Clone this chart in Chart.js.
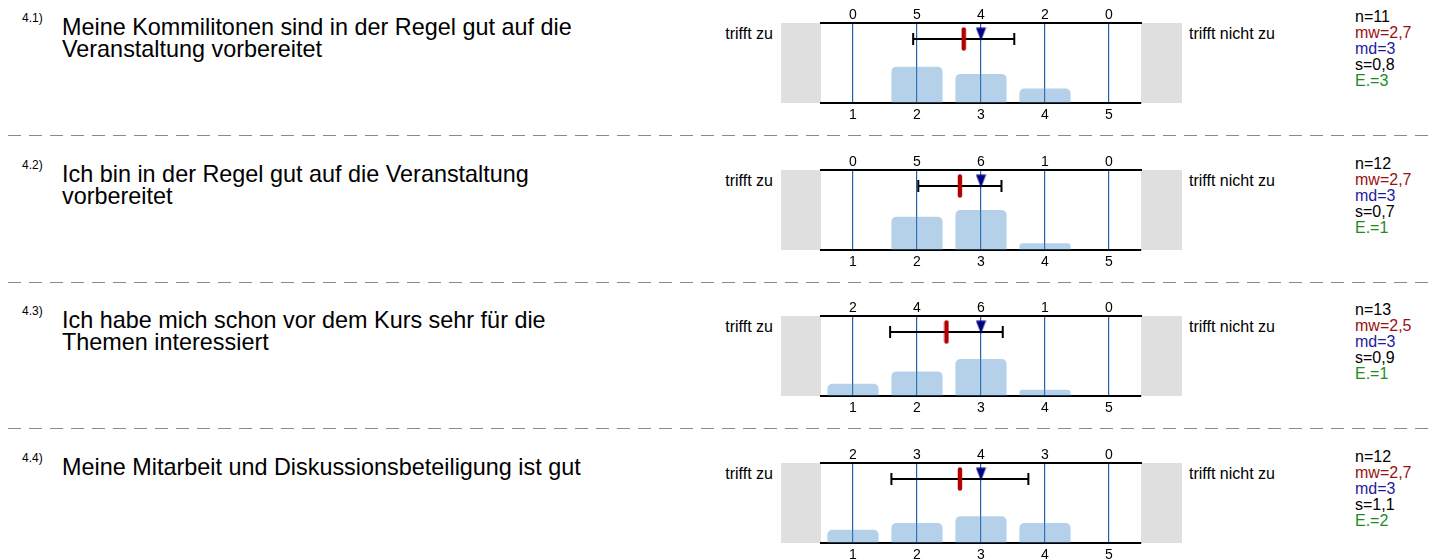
<!DOCTYPE html>
<html>
<head>
<meta charset="utf-8">
<script src="https://cdn.jsdelivr.net/npm/chart.js@4"></script>
<style>
  html, body { margin: 0; padding: 0; background: #fff; }
  body { width: 1431px; height: 559px; overflow: hidden; position: relative; font-family: "Liberation Sans", Arial, sans-serif; }
  .abs { position: absolute; white-space: nowrap; }
  .nr { font-size: 12px; color: #000; }
  .q { font-size: 23.4px; line-height: 22px; color: #000; }
  .lbl { font-size: 16px; line-height: 18px; color: #000; }
  .stats { font-size: 16px; line-height: 16px; }
  .mw { color: #9b1010; }
  .md { color: #1c1c9c; }
  .en { color: #1e8c1e; }
  canvas { position: absolute; }
</style>
</head>
<body>
<svg id="seps" class="abs" style="left:0;top:0" width="1431" height="559"></svg>
<script>
// question labels
const numbers = ["4.1)", "4.2)", "4.3)", "4.4)"];
const questions = [
  ["Meine Kommilitonen sind in der Regel gut auf die", "Veranstaltung vorbereitet"],
  ["Ich bin in der Regel gut auf die Veranstaltung", "vorbereitet"],
  ["Ich habe mich schon vor dem Kurs sehr für die", "Themen interessiert"],
  ["Meine Mitarbeit und Diskussionsbeteiligung ist gut"]
];
const scaleValues = [1, 2, 3, 4, 5];
// answer counts for 1..5
const counts = [
  [0, 5, 4, 2, 0],
  [0, 5, 6, 1, 0],
  [2, 4, 6, 1, 0],
  [2, 3, 4, 3, 0]
];
const nValues = [11, 12, 13, 12];
const means = [2.73, 2.67, 2.46, 2.67];
const medians = [3, 3, 3, 3];
const sds = [0.79, 0.65, 0.88, 1.07];
const abstentions = [3, 1, 1, 2];

const rowTops = [0, 147, 293, 440];

function fmt(v) { return v.toFixed(1).replace(".", ","); }

function addDiv(cls, left, top, html) {
  const d = document.createElement("div");
  d.className = "abs " + cls;
  d.style.left = left + "px";
  d.style.top = top + "px";
  d.innerHTML = html;
  document.body.appendChild(d);
  return d;
}

// marker images
const meanImg = document.createElement("canvas");
meanImg.width = 6; meanImg.height = 24;
(function () {
  const c = meanImg.getContext("2d");
  c.strokeStyle = "#b00000";
  c.lineWidth = 4.4;
  c.lineCap = "round";
  c.beginPath();
  c.moveTo(3, 2.5);
  c.lineTo(3, 21.5);
  c.stroke();
})();

const triImg = document.createElement("canvas");
triImg.width = 11; triImg.height = 14;
(function () {
  const c = triImg.getContext("2d");
  c.fillStyle = "#000080";
  c.beginPath();
  c.moveTo(0.5, 0.5);
  c.lineTo(10.5, 0.5);
  c.lineTo(5.5, 13.5);
  c.closePath();
  c.fill();
})();

const sideBoxes = {
  id: "sideBoxes",
  beforeDraw(chart) {
    const { ctx, chartArea } = chart;
    ctx.save();
    ctx.fillStyle = "#dfdfdf";
    ctx.fillRect(chartArea.left - 40, chartArea.top, 40, chartArea.bottom - chartArea.top);
    ctx.fillRect(chartArea.right, chartArea.top, 41, chartArea.bottom - chartArea.top);
    ctx.restore();
  }
};

Chart.defaults.font.family = '"Liberation Sans", Arial, sans-serif';
Chart.defaults.color = "#000";

// dashed separators
const svg = document.getElementById("seps");
rowTops.slice(0, 3).forEach((t) => {
  const y = t + 135.5;
  const line = document.createElementNS("http://www.w3.org/2000/svg", "line");
  line.setAttribute("x1", 8); line.setAttribute("x2", 1431);
  line.setAttribute("y1", y); line.setAttribute("y2", y);
  line.setAttribute("stroke", "#8a8a8a");
  line.setAttribute("stroke-width", 1);
  line.setAttribute("stroke-dasharray", "13 8");
  svg.appendChild(line);
});

rowTops.forEach((top, r) => {
  addDiv("nr", 22, top + 11, numbers[r]);
  addDiv("q", 62, top + 16, questions[r].join("<br>"));
  const tz = addDiv("lbl", 673, top + 25, "trifft zu");
  tz.style.width = "100px";
  tz.style.textAlign = "right";
  addDiv("lbl", 1189, top + 25, "trifft nicht zu");
  addDiv("stats", 1355, top + 9,
    "n=" + nValues[r] + "<br>" +
    '<span class="mw">mw=' + fmt(means[r]) + "</span><br>" +
    '<span class="md">md=' + medians[r] + "</span><br>" +
    "s=" + fmt(sds[r]) + "<br>" +
    '<span class="en">E.=' + abstentions[r] + "</span>");

  const canvas = document.createElement("canvas");
  canvas.width = 401;
  canvas.height = 125;
  canvas.style.left = "781px";
  canvas.style.top = top + "px";
  document.body.appendChild(canvas);

  const rowCounts = counts[r];
  const setTicks = (scale) => { scale.ticks = scaleValues.map(v => ({ value: v })); };

  new Chart(canvas, {
    type: "bar",
    data: {
      datasets: [
        {
          type: "scatter",
          data: [{ x: medians[r], y: 0.86 }],
          pointStyle: triImg,
          yAxisID: "m",
          order: 0
        },
        {
          type: "scatter",
          data: [{ x: means[r], y: 0.8 }],
          pointStyle: meanImg,
          yAxisID: "m",
          order: 1
        },
        {
          type: "line",
          data: [{ x: means[r] - sds[r], y: 0.8 }, { x: means[r] + sds[r], y: 0.8 }],
          borderColor: "#000",
          borderWidth: 2,
          fill: false,
          pointStyle: "line",
          pointRotation: 90,
          pointRadius: 6,
          pointBorderWidth: 2,
          pointBorderColor: "#000",
          yAxisID: "m",
          order: 2
        },
        {
          type: "bar",
          data: rowCounts.map((c, i) => ({ x: scaleValues[i], y: c })),
          backgroundColor: "rgba(70,140,200,0.40)",
          borderRadius: { topLeft: 5, topRight: 5 },
          borderSkipped: "bottom",
          barPercentage: 1,
          categoryPercentage: 0.8,
          yAxisID: "y",
          order: 3
        }
      ]
    },
    options: {
      responsive: false,
      animation: false,
      events: [],
      layout: { padding: { left: 40, right: 41, top: 0, bottom: 0 } },
      plugins: { legend: { display: false }, tooltip: { enabled: false } },
      scales: {
        x: {
          type: "linear",
          position: "bottom",
          min: 0.5,
          max: 5.5,
          offset: false,
          afterBuildTicks: setTicks,
          afterFit: (s) => { s.height = 22; },
          grid: { color: "rgb(38,98,168)", lineWidth: 1.2, drawTicks: false, offset: false },
          border: { display: true, color: "#000", width: 2 },
          ticks: { padding: 4, font: { size: 14 }, color: "#000" }
        },
        x2: {
          type: "linear",
          position: "top",
          min: 0.5,
          max: 5.5,
          offset: false,
          afterBuildTicks: setTicks,
          afterFit: (s) => { s.height = 23; },
          grid: { display: false, drawTicks: false, offset: false },
          border: { display: true, color: "#000", width: 2 },
          ticks: {
            padding: -1,
            font: { size: 14 },
            color: "#000",
            callback: (v) => rowCounts[scaleValues.indexOf(v)]
          }
        },
        y: { display: false, min: 0, max: nValues[r] },
        m: { display: false, min: 0, max: 1 }
      }
    },
    plugins: [sideBoxes]
  });
});
</script>
</body>
</html>
